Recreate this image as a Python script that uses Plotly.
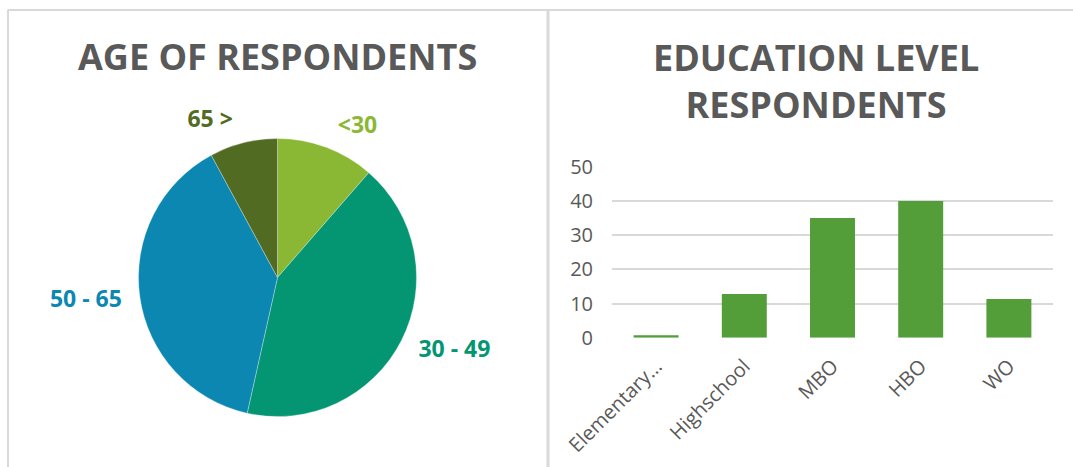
import plotly.graph_objects as go

# Age distribution of respondents (percent)
age_groups = ["<30", "30 - 49", "50 - 65", "65 >"]
age_share = [11.4, 42.1, 38.6, 7.9]
age_colors = ["#8BB834", "#049672", "#0B87B2", "#526B22"]

# Education level of respondents (percent)
edu_levels = ["Elementary school", "Highschool", "MBO", "HBO", "WO"]
edu_tick_text = ["Elementary…", "Highschool", "MBO", "HBO", "WO"]
edu_share = [0.7, 12.8, 35.0, 40.0, 11.3]
y_ticks = [0, 10, 20, 30, 40, 50]

W, H = 1073, 467
FONT = "Open Sans"
GREY = "#595959"
LINE = "#D9D9D9"


def px_x(x):
    return x / W


def px_y(y):
    return 1 - y / H


def pie_domain(cx, cy, r):
    return dict(x=[px_x(cx - r), px_x(cx + r)], y=[px_y(cy + r), px_y(cy - r)])


fig = go.Figure()

# Pie centred at (277.5, 277.5) px with radius ~139 px
cx, cy, r = 277.5, 277.5, 139
fig.add_trace(go.Pie(
    labels=age_groups,
    values=age_share,
    sort=False,
    direction="clockwise",
    rotation=0,
    marker=dict(colors=age_colors, line=dict(color="rgba(255,255,255,0.6)", width=0.5)),
    textinfo="none",
    showlegend=False,
    hoverinfo="label+percent",
    domain=pie_domain(cx, cy, r),
))

# Same slices, unpainted and slightly larger, carrying the outside labels
# so they sit a little further from the rim
fig.add_trace(go.Pie(
    labels=age_groups,
    values=age_share,
    sort=False,
    direction="clockwise",
    rotation=0,
    marker=dict(colors=["rgba(0,0,0,0)"] * len(age_groups), line=dict(width=0)),
    textinfo="label",
    textposition="outside",
    textfont=dict(family=FONT, size=23, color=age_colors, weight="bold"),
    showlegend=False,
    hoverinfo="skip",
    domain=pie_domain(cx, cy, r + 10),
))

fig.add_trace(go.Bar(
    x=edu_levels,
    y=edu_share,
    marker=dict(color="#549E39", line=dict(width=0)),
    showlegend=False,
    xaxis="x",
    yaxis="y",
))

fig.update_layout(
    width=W,
    height=H,
    margin=dict(l=0, r=0, t=0, b=0, pad=0, autoexpand=False),
    paper_bgcolor="white",
    plot_bgcolor="white",
    showlegend=False,
    bargap=0.49,
    font=dict(family=FONT, color=GREY),
    xaxis=dict(
        domain=[px_x(612), px_x(1053)],
        type="category",
        categoryorder="array",
        categoryarray=edu_levels,
        tickvals=edu_levels,
        ticktext=edu_tick_text,
        tickangle=-45,
        tickfont=dict(family=FONT, size=20, color=GREY),
        showgrid=False,
        showline=False,
        zeroline=False,
        ticks="",
        ticklabelstandoff=12,
        automargin=False,
        fixedrange=True,
    ),
    yaxis=dict(
        domain=[px_y(337.7), px_y(166.7)],
        range=[0, 50],
        tickvals=y_ticks,
        tickfont=dict(family=FONT, size=20, color=GREY),
        showgrid=True,
        gridcolor=LINE,
        gridwidth=2,
        zeroline=False,
        showline=False,
        ticks="",
        ticklabelstandoff=18,
        automargin=False,
        fixedrange=True,
    ),
)

# Titles
fig.add_annotation(
    text="AGE OF RESPONDENTS",
    x=px_x(277.5), y=px_y(56.5), xref="paper", yref="paper",
    xanchor="center", yanchor="middle", showarrow=False,
    font=dict(family=FONT, size=36, color=GREY, weight="bold"),
)
fig.add_annotation(
    text="EDUCATION LEVEL<br>RESPONDENTS",
    x=px_x(816), y=px_y(80.8), xref="paper", yref="paper",
    xanchor="center", yanchor="middle", showarrow=False,
    font=dict(family=FONT, size=36, color=GREY, weight="bold"),
)

# Panel borders
border = dict(color=LINE, width=2)
fig.add_shape(type="line", xref="paper", yref="paper",
              x0=px_x(7.5), x1=1, y0=px_y(10), y1=px_y(10), line=border)
fig.add_shape(type="line", xref="paper", yref="paper",
              x0=px_x(8), x1=px_x(8), y0=px_y(10), y1=0, line=border)
fig.add_shape(type="line", xref="paper", yref="paper",
              x0=px_x(548), x1=px_x(548), y0=px_y(10), y1=0, line=dict(color=LINE, width=3))

fig.write_html("out.html")
